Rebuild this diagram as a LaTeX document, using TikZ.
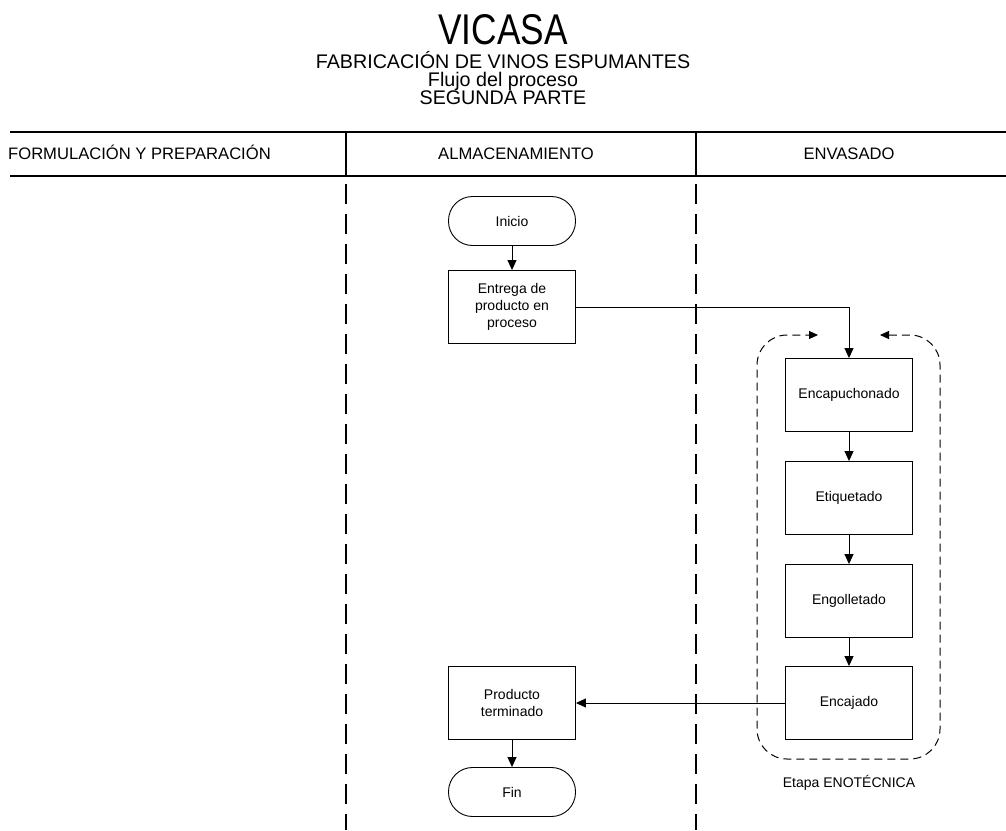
\documentclass[tikz,border=0pt]{standalone}
\usepackage{fontspec}
\setmainfont{Liberation Sans}
\newfontfamily\titlefont[FakeStretch=0.82]{Liberation Sans}
\usetikzlibrary{arrows.meta}
\begin{document}
\begin{tikzpicture}[x=1pt,y=-1pt,
  box/.style={draw,line width=0.9pt,minimum width=127pt,minimum height=73pt,inner sep=0pt,align=center,font=\fontsize{14}{16.7}\selectfont},
  term/.style={draw,line width=0.9pt,rounded corners=24pt,minimum width=127pt,minimum height=49pt,inner sep=0pt,font=\fontsize{14}{16.7}\selectfont},
  arr/.style={line width=0.9pt,-{Triangle[length=10pt,width=9pt]}},
  lanesep/.style={line width=1.5pt,dash pattern=on 20pt off 10pt},
  headline/.style={line width=2pt},
  head/.style={font=\fontsize{16.6}{16.6}\selectfont,anchor=base,inner sep=0pt},
  sub/.style={font=\fontsize{19.7}{19.7}\selectfont,anchor=base,inner sep=0pt},
  loop/.style={line width=1pt,dash pattern=on 8pt off 5pt,rounded corners=30pt,{Triangle[length=9pt,width=8pt]}-{Triangle[length=9pt,width=8pt]}},
]
\useasboundingbox (0,0) rectangle (1006,830);
% titles
\node[font=\titlefont\fontsize{43}{43}\selectfont,anchor=base,inner sep=0pt] (t1) at (503,44) {VICASA};
\node[sub] (t2) at (503,68) {FABRICACIÓN DE VINOS ESPUMANTES};
\node[sub] (t3) at (503,86) {Flujo del proceso};
\node[sub] (t4) at (503,104.5) {SEGUNDA PARTE};
% header
\draw[headline] (10,132) -- (1006,132);
\draw[headline] (10,176) -- (1006,176);
\draw[line width=1.5pt] (346,132) -- (346,176);
\draw[line width=1.5pt] (696,132) -- (696,176);
\draw[lanesep] (346,184) -- (346,830);
\draw[lanesep] (696,184) -- (696,830);
\node[head,anchor=base west] (h1) at (8,159) {FORMULACIÓN Y PREPARACIÓN};
\node[head] (h2) at (516,159) {ALMACENAMIENTO};
\node[head] (h3) at (849,159) {ENVASADO};
% nodes
\node[term] (inicio) at (512,221) {Inicio};
\node[box] (entrega) at (512,307) {Entrega de\\producto en\\proceso};
\node[box] (encap) at (849,395) {Encapuchonado};
\node[box] (etiq) at (849,498) {Etiquetado};
\node[box] (engo) at (849,601) {Engolletado};
\node[box] (encaj) at (849,703) {Encajado};
\node[box] (prod) at (512,703) {Producto\\terminado};
\node[term] (fin) at (512,792) {Fin};
% connectors
\draw[arr] (inicio) -- (entrega);
\draw[arr] (entrega.east) -| (encap.north);
\draw[arr] (encap) -- (etiq);
\draw[arr] (etiq) -- (engo);
\draw[arr] (engo) -- (encaj);
\draw[arr] (encaj.west) -- (prod.east);
\draw[arr] (prod) -- (fin);
% dashed loop
\coordinate (lt) at (818,335);
\coordinate (rt) at (880,335);
\draw[loop] (rt) -- (940,335) -- (940,759) -- (757,759) -- (757,335) -- (lt);
\node[font=\fontsize{14}{14}\selectfont] (etapa) at (849,783) {Etapa ENOTÉCNICA};
\end{tikzpicture}
\end{document}
